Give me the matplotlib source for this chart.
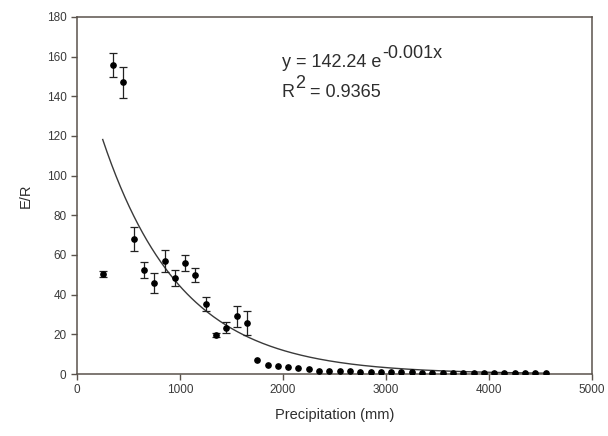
import numpy as np
import matplotlib
matplotlib.use("Agg")
import matplotlib.pyplot as plt

plt.rcParams['font.family'] = ['Liberation Sans', 'DejaVu Sans']

# measured E/R with error bars
precip = [250, 350, 450, 550, 650, 750, 850, 950, 1050, 1150,
          1250, 1350, 1450, 1550, 1650]
er = [50.5, 155.6, 147.0, 68.0, 52.3, 45.7, 57.0, 48.4, 55.8, 49.9,
      35.3, 19.8, 23.4, 29.1, 25.9]
err = [1.5, 6.0, 8.0, 6.0, 4.0, 5.0, 5.5, 4.0, 4.0, 3.5,
       3.5, 1.0, 2.7, 5.3, 6.0]

# tail points without error bars
precip_tail = list(range(1750, 4551, 100))
er_tail = [6.9, 4.6, 3.8, 3.7, 3.0, 2.3, 1.7, 1.5, 1.4, 1.3,
           1.2, 1.1, 1.0, 0.9, 0.9, 0.8, 0.7, 0.7, 0.6, 0.6,
           0.5, 0.5, 0.5, 0.4, 0.4, 0.4, 0.3, 0.3, 0.3]

# exponential trend line as drawn
fit_a = 164.0
fit_b = 0.00131
fit_x = np.linspace(250, 4550, 300)
fit_y = fit_a * np.exp(-fit_b * fit_x)

axcol = '#5a524c'
txtcol = '#2e2e2e'

fig = plt.figure(figsize=(6.08, 4.36), dpi=100)
ax = fig.add_axes([0.1266, 0.1422, 0.847, 0.819])

ax.plot(fit_x, fit_y, color='#3a3a3a', lw=1.0, zorder=2)
ax.errorbar(precip, er, yerr=err, fmt='o', color='black', ms=3.8,
            ecolor='#222222', elinewidth=0.9, capsize=3, capthick=0.9, zorder=3)
ax.plot(precip_tail, er_tail, 'o', color='black', ms=3.8, zorder=3)

ax.set_xlim(0, 5000)
ax.set_ylim(0, 180)
ax.set_xticks(range(0, 5001, 1000))
ax.set_yticks(range(0, 181, 20))

for s in ax.spines.values():
    s.set_color(axcol)
    s.set_linewidth(1.1)
ax.tick_params(direction='out', length=4, width=1.0, color=axcol,
               labelsize=8.5, labelcolor='#3a3a3a', top=False, right=False)

ax.set_xlabel('Precipitation (mm)', fontsize=10.5, color=txtcol, labelpad=8)
ax.set_ylabel('E/R', fontsize=10.5, color=txtcol, labelpad=10)

# equation with large superscripts, like the original
eq_size = 13
t1 = ax.text(0.398, 0.86, 'y = 142.24 e', transform=ax.transAxes,
             fontsize=eq_size, color=txtcol)
ax.annotate('-0.001x', xy=(1, 0), xycoords=t1, xytext=(0.5, 6.5),
            textcoords='offset points', fontsize=eq_size, color=txtcol, va='bottom')
t2 = ax.text(0.398, 0.776, 'R', transform=ax.transAxes,
             fontsize=eq_size, color=txtcol)
t3 = ax.annotate('2', xy=(1, 0), xycoords=t2, xytext=(0, 6.5),
                 textcoords='offset points', fontsize=eq_size, color=txtcol, va='bottom')
ax.annotate(' = 0.9365', xy=(1, 0), xycoords=t3, xytext=(0, -6.5),
            textcoords='offset points', fontsize=eq_size, color=txtcol, va='bottom')

fig.savefig('out.png', dpi=100)
